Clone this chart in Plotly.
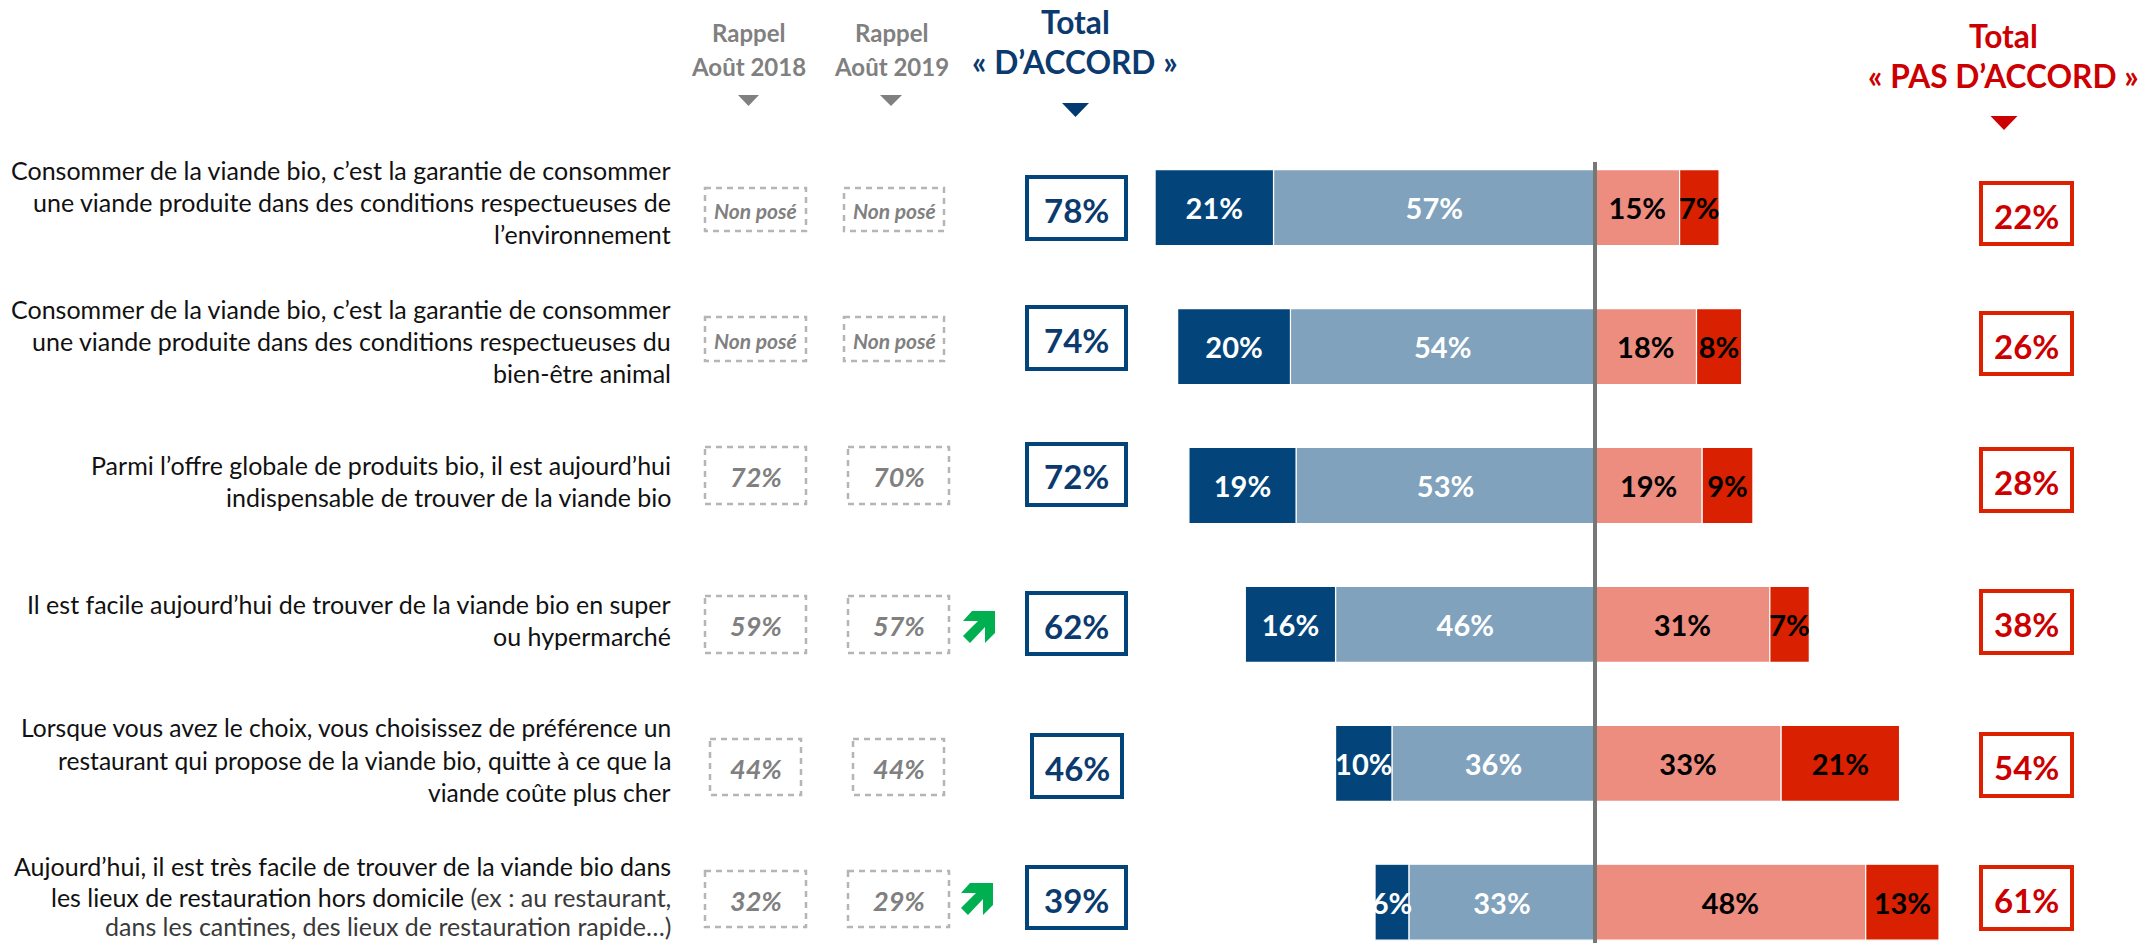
import plotly.graph_objects as go

W, H = 2138, 943
CENTER_PX = 1595
PX_PER_PCT = 5.64
ROW_PITCH = 138.9
ROW0_PX = 207.7
BAR_PX = 76

rows = ["r1", "r2", "r3", "r4", "r5", "r6"]
tout_a_fait_accord = [21, 20, 19, 16, 10, 6]
plutot_accord = [57, 54, 53, 46, 36, 33]
plutot_pas_accord = [15, 18, 19, 31, 33, 48]
pas_du_tout_accord = [7, 8, 9, 7, 21, 13]
total_accord = [78, 74, 72, 62, 46, 39]
total_pas_accord = [22, 26, 28, 38, 54, 61]
rappel_2018 = ["Non posé", "Non posé", "72%", "59%", "44%", "32%"]
rappel_2019 = ["Non posé", "Non posé", "70%", "57%", "44%", "29%"]

SOFT = "<span style='color:#3a3a3a'>"
label_lines = [
    [("Consommer de la viande bio, c’est la garantie de consommer", 170),
     ("une viande produite dans des conditions respectueuses de", 202),
     ("l’environnement", 234)],
    [("Consommer de la viande bio, c’est la garantie de consommer", 309),
     ("une viande produite dans des conditions respectueuses du", 341),
     ("bien-être animal", 373)],
    [("Parmi l’offre globale de produits bio, il est aujourd’hui", 465),
     ("indispensable de trouver de la viande bio", 497)],
    [("Il est facile aujourd’hui de trouver de la viande bio en super", 604),
     ("ou hypermarché", 636)],
    [("Lorsque vous avez le choix, vous choisissez de préférence un", 727),
     ("restaurant qui propose de la viande bio, quitte à ce que la", 760),
     ("viande coûte plus cher", 792)],
    [("Aujourd’hui, il est très facile de trouver de la viande bio dans", 866),
     (f"les lieux de restauration hors domicile {SOFT}(ex : au restaurant,</span>", 897),
     (f"{SOFT}dans les cantines, des lieux de restauration rapide…)</span>", 926)],
]
label_sizes = [25, 25, 25, 25, 24.6, 25]

col1_boxes = [(705, 806, 188, 231), (705, 806, 317, 361), (705, 806, 447, 504),
              (705, 806, 596, 653), (710, 801, 739, 795), (705, 806, 871, 927)]
col2_boxes = [(844, 944, 188, 231), (844, 944, 317, 361), (848, 949, 447, 504),
              (848, 949, 596, 653), (853, 944, 739, 795), (848, 949, 871, 927)]
acc_boxes = [(1027, 1126, 177, 239), (1027, 1126, 307, 369), (1027, 1126, 444, 505),
             (1027, 1126, 593, 654), (1032, 1122, 735, 797), (1027, 1126, 867, 928)]
pas_boxes = [(1981, 2072, 183, 244), (1981, 2072, 313, 374), (1981, 2072, 449, 511),
             (1981, 2072, 591, 653), (1981, 2072, 734, 796), (1981, 2072, 867, 929)]

BLUE_D, BLUE_L, RED_L, RED_D = "#03457a", "#80a2bd", "#ec8d80", "#d92000"
TXT_BLUE, TXT_RED, GREY = "#0b3a6e", "#cc0000", "#808080"
FONT = "Lato"


def px(x):
    return x / W


def py(y):
    return 1 - y / H


fig = go.Figure()
series = [
    (plutot_accord, BLUE_L, "white", -1),
    (tout_a_fait_accord, BLUE_D, "white", -1),
    (plutot_pas_accord, RED_L, "black", 1),
    (pas_du_tout_accord, RED_D, "black", 1),
]
# stack order: nearest to the centre first
for vals, color, tcolor, sign in series:
    fig.add_trace(go.Bar(
        y=rows, x=[sign * v for v in vals], orientation="h",
        marker=dict(color=color, line=dict(color="white", width=1.2)),
        text=[f"{v}%" for v in vals], textposition="inside", textangle=0,
        insidetextanchor="middle", constraintext="none", cliponaxis=False,
        textfont=dict(family=FONT, size=29, color=tcolor, weight="bold"),
        hoverinfo="skip", showlegend=False,
    ))

shapes = []
annotations = []


def text(x, y, s, size, color, bold=False, italic=False, anchor="center"):
    if italic:
        s = f"<i>{s}</i>"
    annotations.append(dict(
        x=px(x), y=py(y), xref="paper", yref="paper", text=s, showarrow=False,
        xanchor=anchor, yanchor="middle", align=anchor,
        font=dict(family=FONT, size=size, color=color, weight="bold" if bold else "normal"),
    ))


def rect(b, color, width, dash="solid"):
    shapes.append(dict(type="rect", xref="paper", yref="paper",
                       x0=px(b[0]), x1=px(b[1]), y0=py(b[2]), y1=py(b[3]),
                       line=dict(color=color, width=width, dash=dash), layer="above"))


def poly(points, color):
    d = "M" + " L".join(f"{px(a):.5f},{py(b):.5f}" for a, b in points) + " Z"
    shapes.append(dict(type="path", path=d, xref="paper", yref="paper",
                       fillcolor=color, line=dict(width=0), layer="above"))


def tri(x0, x1, y0, y1, color):
    poly([(x0, y0), (x1, y0), ((x0 + x1) / 2, y1)], color)


def arrow(x, y):
    pts = [(9, 0), (32, 0), (32, 22), (22, 32), (22, 16), (7, 32), (0, 25), (15, 10), (0, 10)]
    poly([(x + a, y + b) for a, b in pts], "#00b050")


# central axis line
shapes.append(dict(type="line", xref="x", yref="paper", x0=0, x1=0, y0=0, y1=py(162),
                   line=dict(color="#777777", width=4), layer="above"))

# header
text(748, 33, "Rappel", 24, GREY, bold=True)
text(748, 66, "Août 2018", 24, GREY, bold=True)
text(891, 33, "Rappel", 24, GREY, bold=True)
text(891, 66, "Août 2019", 24, GREY, bold=True)
text(1075, 22, "Total", 31.7, TXT_BLUE, bold=True)
text(1075, 62, "« D’ACCORD »", 31.7, TXT_BLUE, bold=True)
text(2003, 36, "Total", 31.7, TXT_RED, bold=True)
text(2003, 76, "« PAS D’ACCORD »", 31.7, TXT_RED, bold=True)
tri(738, 759, 95, 106, GREY)
tri(880, 902, 95, 106, GREY)
tri(1062, 1089, 103, 117, "#003a70")
tri(1990.5, 2017.5, 116, 130, TXT_RED)

for lines, size in zip(label_lines, label_sizes):
    for s, y in lines:
        text(672.5, y, s, size, "#111111", anchor="right")

for i in range(6):
    for boxes, vals in ((col1_boxes, rappel_2018), (col2_boxes, rappel_2019)):
        b = boxes[i]
        rect(b, "#b5b5b5", 2.5, "6px,5px")
        size = 21 if vals[i] == "Non posé" else 27
        text((b[0] + b[1]) / 2, (b[2] + b[3]) / 2 + 1, vals[i], size, GREY, bold=True, italic=True)
    b = acc_boxes[i]
    rect(b, BLUE_D, 4)
    text((b[0] + b[1]) / 2, (b[2] + b[3]) / 2 + 2, f"{total_accord[i]}%", 33, TXT_BLUE, bold=True)
    b = pas_boxes[i]
    rect(b, "#dd2000", 4)
    text((b[0] + b[1]) / 2, (b[2] + b[3]) / 2 + 2, f"{total_pas_accord[i]}%", 33, TXT_RED, bold=True)

arrow(963, 611)
arrow(961, 883)

y_top = -ROW0_PX / ROW_PITCH
y_bot = (H - ROW0_PX) / ROW_PITCH
fig.update_layout(
    width=W, height=H, margin=dict(l=0, r=0, t=0, b=0, pad=0),
    paper_bgcolor="white", plot_bgcolor="white",
    barmode="relative", bargap=1 - BAR_PX / ROW_PITCH,
    xaxis=dict(range=[-CENTER_PX / PX_PER_PCT, (W - CENTER_PX) / PX_PER_PCT], visible=False, fixedrange=True),
    yaxis=dict(type="category", categoryorder="array", categoryarray=rows,
               range=[y_bot, y_top], visible=False, fixedrange=True),
    shapes=shapes, annotations=annotations,
)
fig.write_html("out.html", post_script="document.body.style.margin='0';document.body.style.overflow='hidden';",
               config={"displayModeBar": False})
